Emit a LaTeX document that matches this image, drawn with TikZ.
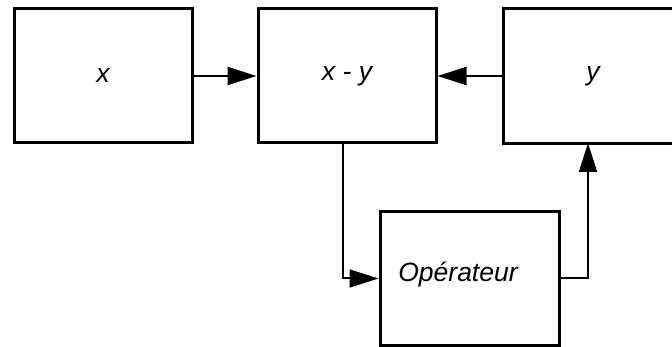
\documentclass[tikz,border=0pt]{standalone}
\usepackage{fontspec}
\setmainfont{Liberation Sans}
\usetikzlibrary{arrows.meta}
\begin{document}
\begin{tikzpicture}[x=1pt,y=-1pt,
  blockbox/.style={draw=black, line width=3pt, rectangle, inner sep=0pt,
    font=\fontsize{26.5}{30}\selectfont\itshape},
  conn/.style={draw=black, line width=2pt},
  tip/.style={-{Triangle[length=29pt,width=18pt]}}]
\useasboundingbox (0,0) rectangle (672,347);
\clip (0,0) rectangle (672,347);
\node[blockbox, minimum width=178pt, minimum height=134pt] (bx) at (103,76) {x};
\node[blockbox, minimum width=178pt, minimum height=134pt] (bxy) at (347,76) {x - y};
\node[blockbox, minimum width=180pt, minimum height=135pt] (by) at (593,76) {y};
\node[blockbox, minimum width=179pt, minimum height=133pt] (bop) at (469.5,278.5) {};
\node[font=\fontsize{26.5}{30}\selectfont\itshape] (optext) at (458,274) {Opérateur};
\coordinate (d1) at (343,143);
\coordinate (u1) at (588,143);
\draw[conn, tip] (bx.east) -- (bxy.west);
\draw[conn, tip] (by.west) -- (bxy.east);
\draw[conn, tip] (d1) |- (bop.west);
\draw[conn, tip] (bop.east) -| (u1);
\end{tikzpicture}
\end{document}
